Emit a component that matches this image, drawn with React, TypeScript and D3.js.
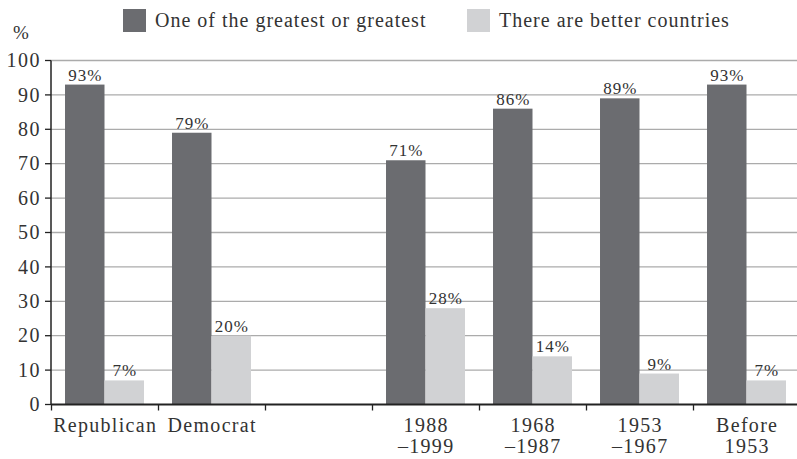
import React from "react";
import * as d3 from "d3";

const categories = ["Republican", "Democrat", "", "1988\n–1999", "1968\n–1987", "1953\n–1967", "Before\n1953"];
const categoryKeys = ["rep", "dem", "gap", "g1", "g2", "g3", "g4"];
const greatest: (number | null)[] = [93, 79, null, 71, 86, 89, 93];
const better: (number | null)[] = [7, 20, null, 28, 14, 9, 7];
const seriesNames = ["One of the greatest or greatest", "There are better countries"];
const seriesColors = ["#6b6c70", "#d1d2d4"];
const yTicks = [0, 10, 20, 30, 40, 50, 60, 70, 80, 90, 100];

const W = 797;
const H = 459;
const FONT = "'Liberation Serif', 'DejaVu Serif', serif";

export default function App() {
  const left = 51;
  const right = 800;
  const y0 = 404.5;
  const y100 = 60.5;

  const x = d3.scaleBand<string>().domain(categoryKeys).range([left, right]).padding(0);
  const inner = d3
    .scaleBand<string>()
    .domain(["a", "b"])
    .range([0, x.step()])
    .paddingInner(0)
    .paddingOuter(0.355);
  const y = d3.scaleLinear().domain([0, 100]).range([y0, y100]);

  const series = [greatest, better];

  return (
    <svg width={W} height={H} style={{ position: "absolute", left: 0, top: 0, background: "#fff" }}>
      <g fontFamily={FONT} fill="#333">
        {/* legend */}
        {seriesNames.map((name, i) => {
          const lx = i === 0 ? 123 : 467;
          return (
            <g key={name}>
              <rect x={lx} y={9} width={23} height={23} fill={seriesColors[i]} />
              <text x={lx + 32} y={27} fontSize={20} letterSpacing={1} fill="#333">
                {name}
              </text>
            </g>
          );
        })}
        <text x={13} y={39} fontSize={19}>%</text>

        {/* gridlines */}
        {yTicks.filter((t) => t > 0).map((t) => (
          <line key={t} x1={left} x2={W} y1={y(t)} y2={y(t)} stroke="#ababab" strokeWidth={1.3} />
        ))}

        {/* y ticks and labels */}
        {yTicks.map((t) => (
          <g key={"yt" + t}>
            <line x1={left - 6} x2={left} y1={y(t)} y2={y(t)} stroke="#222" strokeWidth={1.3} />
            <text x={41} y={y(t)} dy="0.33em" textAnchor="end" fontSize={20} letterSpacing={1.5}>
              {t}
            </text>
          </g>
        ))}

        {/* bars */}
        {series.map((vals, si) =>
          vals.map((v, ci) => {
            if (v == null) return null;
            const bx = (x(categoryKeys[ci]) as number) + (inner(si === 0 ? "a" : "b") as number);
            const bw = inner.bandwidth();
            return (
              <g key={si + "-" + ci}>
                <rect x={bx} y={y(v)} width={bw} height={y0 - y(v)} fill={seriesColors[si]} />
                <text
                  x={bx + bw / 2 + 0.5}
                  y={y(v) - 4}
                  textAnchor="middle"
                  fontSize={17}
                  letterSpacing={1}
                  fill="#333"
                >
                  {v}%
                </text>
              </g>
            );
          })
        )}

        {/* axes */}
        <line x1={left} x2={left} y1={y0} y2={y100} stroke="#222" strokeWidth={1.5} />
        <line x1={left} x2={W} y1={y0} y2={y0} stroke="#222" strokeWidth={2} />
        {categoryKeys.map((k) => (
          <line
            key={"xt" + k}
            x1={(x(k) as number) + 0.5}
            x2={(x(k) as number) + 0.5}
            y1={y0}
            y2={y0 + 6}
            stroke="#222"
            strokeWidth={1.3}
          />
        ))}

        {/* category labels */}
        {categories.map((c, i) => {
          const cx = (x(categoryKeys[i]) as number) + x.bandwidth() / 2 + 0.7;
          const lines = c.split("\n");
          return (
            <text key={"c" + i} x={cx} y={432} textAnchor="middle" fontSize={20} letterSpacing={1.3}>
              {lines.map((ln, j) => (
                <tspan key={j} x={cx} dy={j === 0 ? 0 : 21}>
                  {ln}
                </tspan>
              ))}
            </text>
          );
        })}
      </g>
    </svg>
  );
}
